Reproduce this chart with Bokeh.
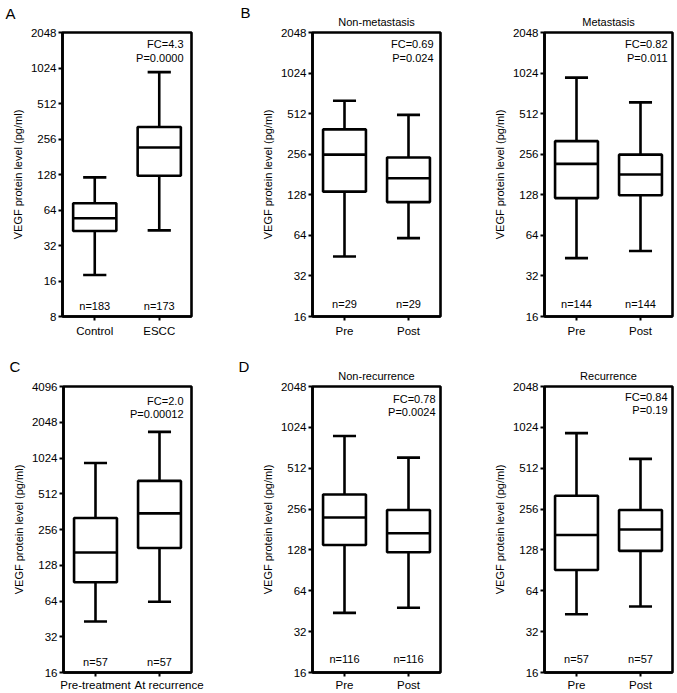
from bokeh.plotting import figure
from bokeh.layouts import column, row
from bokeh.models import Range1d, FixedTicker, PrintfTickFormatter, Label, Title
from bokeh.embed import file_html
from bokeh.resources import INLINE

FONT = "Liberation Sans"
LW = 2.6

# ---------------- data ----------------
y_label = "VEGF protein level (pg/ml)"

# Panel A
a_groups = ["Control", "ESCC"]
a_low = [18, 43]
a_q1 = [42.5, 125]
a_med = [54.5, 217]
a_q3 = [73, 324]
a_high = [121, 945]
a_n = ["n=183", "n=173"]
a_stats = ["FC=4.3", "P=0.0000"]
a_yticks = [8, 16, 32, 64, 128, 256, 512, 1024, 2048]

# Panel B (left)
b1_title = "Non-metastasis"
b_groups = ["Pre", "Post"]
b1_low = [44.6, 61]
b1_q1 = [135, 113]
b1_med = [254, 170]
b1_q3 = [391, 242]
b1_high = [638, 501]
b1_n = ["n=29", "n=29"]
b1_stats = ["FC=0.69", "P=0.024"]
b_yticks = [16, 32, 64, 128, 256, 512, 1024, 2048]

# Panel B (right)
b2_title = "Metastasis"
b2_low = [43.4, 49]
b2_q1 = [121, 127]
b2_med = [217, 181]
b2_q3 = [320, 254]
b2_high = [948, 621]
b2_n = ["n=144", "n=144"]
b2_stats = ["FC=0.82", "P=0.011"]

# Panel C
c_groups = ["Pre-treatment", "At recurrence"]
c_low = [43, 63]
c_q1 = [92, 179]
c_med = [164, 350]
c_q3 = [320, 657]
c_high = [929, 1700]
c_n = ["n=57", "n=57"]
c_stats = ["FC=2.0", "P=0.00012"]
c_yticks = [16, 32, 64, 128, 256, 512, 1024, 2048, 4096]

# Panel D (left)
d1_title = "Non-recurrence"
d_groups = ["Pre", "Post"]
d1_low = [44, 48]
d1_q1 = [139, 123]
d1_med = [222, 170]
d1_q3 = [328, 252]
d1_high = [885, 613]
d1_n = ["n=116", "n=116"]
d1_stats = ["FC=0.78", "P=0.0024"]
d_yticks = [16, 32, 64, 128, 256, 512, 1024, 2048]

# Panel D (right)
d2_title = "Recurrence"
d2_low = [43, 49]
d2_q1 = [91, 126]
d2_med = [165, 181]
d2_q3 = [321, 252]
d2_high = [929, 600]
d2_n = ["n=57", "n=57"]
d2_stats = ["FC=0.84", "P=0.19"]


def text_title(text, size, align, valign, standoff, offset=0):
    return Title(text=text, text_font=FONT, text_font_size=size,
                 text_font_style="normal", text_color="black", align=align,
                 vertical_align=valign, standoff=standoff, offset=offset)


def panel(groups, low, q1, med, q3, high, n_labels, stats, yticks, *, title,
          letter, width, height, left, right, top, bottom, letter_dx,
          letter_so, stats_dx, stats_dy, n_dy, label_pad=None, xstand=2):
    ymin, ymax = yticks[0], yticks[-1]
    if letter:
        main_title = text_title(letter, "15px", "left", "bottom", letter_so, letter_dx)
    else:
        main_title = text_title(title, "11px", "center", "bottom", 10)
    p = figure(width=width, height=height, y_axis_type="log",
               x_range=Range1d(0.5, len(groups) + 0.5),
               y_range=Range1d(ymin, ymax),
               output_backend="svg", toolbar_location=None,
               min_border_left=left, min_border_right=right,
               min_border_top=top, min_border_bottom=bottom,
               title=main_title)
    if letter:
        if title:
            p.add_layout(text_title(title, "11px", "center", "top", 6), "above")
        else:
            p.add_layout(text_title("\u00a0", "11px", "center", "bottom", 0), "above")

    xs = list(range(1, len(groups) + 1))
    bw, cw = 0.67, 0.36
    kw = dict(line_color="black", line_width=LW)
    # whiskers
    p.segment(xs, q3, xs, high, **kw)
    p.segment(xs, low, xs, q1, **kw)
    p.segment([x - cw / 2 for x in xs], high, [x + cw / 2 for x in xs], high, **kw)
    p.segment([x - cw / 2 for x in xs], low, [x + cw / 2 for x in xs], low, **kw)
    # boxes
    p.vbar(x=xs, width=bw, bottom=q1, top=q3, fill_color="white", **kw)
    p.segment([x - bw / 2 for x in xs], med, [x + bw / 2 for x in xs], med, **kw)

    p.xgrid.visible = False
    p.ygrid.visible = False
    p.outline_line_color = "black"
    p.outline_line_width = LW
    p.outline_line_alpha = 1.0

    for ax in (p.xaxis[0], p.yaxis[0]):
        ax.axis_line_color = "black"
        ax.axis_line_width = LW
        ax.major_tick_line_color = "black"
        ax.major_tick_line_width = 2
        ax.major_tick_in = 0
        ax.major_tick_out = 4
        ax.minor_tick_line_color = None
        ax.major_label_text_font = FONT
        ax.major_label_text_font_size = "11.5px"
        ax.major_label_text_color = "black"
        ax.major_label_standoff = 2
    p.xaxis.major_label_standoff = xstand

    p.xaxis.ticker = FixedTicker(ticks=xs)
    names = list(groups)
    if label_pad:
        names = [("\u00a0" * pad) + g for g, pad in zip(groups, label_pad)]
    p.xaxis.major_label_overrides = {x: g for x, g in zip(xs, names)}
    p.yaxis.ticker = FixedTicker(ticks=yticks)
    p.yaxis.formatter = PrintfTickFormatter(format="%d")
    p.yaxis.axis_label = y_label
    p.yaxis.axis_label_text_font = FONT
    p.yaxis.axis_label_text_font_size = "11px"
    p.yaxis.axis_label_text_font_style = "normal"
    p.yaxis.axis_label_text_color = "black"
    p.yaxis.axis_label_standoff = 4

    lab = dict(text_font=FONT, text_color="black")
    for i, s in enumerate(stats):
        p.add_layout(Label(x=len(groups) + 0.5, y=ymax, x_offset=-stats_dx,
                           y_offset=-stats_dy[i], text=s, text_font_size="11px",
                           text_align="right", text_baseline="middle", **lab))
    for x, t in zip(xs, n_labels):
        p.add_layout(Label(x=x, y=ymin, y_offset=n_dy, text=t,
                           text_font_size="11px", text_align="center",
                           text_baseline="middle", **lab))
    return p


pA = panel(a_groups, a_low, a_q1, a_med, a_q3, a_high, a_n, a_stats, a_yticks,
           title="", letter="A", width=230, height=340, left=62, right=39,
           top=32, bottom=24, letter_dx=-57, letter_so=-7, stats_dx=8,
           stats_dy=[11, 25], n_dy=11, xstand=4)
pB1 = panel(b_groups, b1_low, b1_q1, b1_med, b1_q3, b1_high, b1_n, b1_stats, b_yticks,
            title=b1_title, letter="B", width=220, height=340, left=82, right=10,
            top=32, bottom=24, letter_dx=-72, letter_so=-17, stats_dx=7,
            stats_dy=[11, 25], n_dy=13, xstand=4)
pB2 = panel(b_groups, b2_low, b2_q1, b2_med, b2_q3, b2_high, b2_n, b2_stats, b_yticks,
            title=b2_title, letter=None, width=227, height=340, left=94, right=5,
            top=32, bottom=24, letter_dx=0, letter_so=0, stats_dx=5,
            stats_dy=[11, 25], n_dy=13, xstand=4)
pC = panel(c_groups, c_low, c_q1, c_med, c_q3, c_high, c_n, c_stats, c_yticks,
           title="", letter="C", width=230, height=353, left=63, right=39,
           top=46, bottom=21, letter_dx=-54, letter_so=-5, stats_dx=8,
           stats_dy=[14, 27], n_dy=11, label_pad=[0, 6])
pD1 = panel(d_groups, d1_low, d1_q1, d1_med, d1_q3, d1_high, d1_n, d1_stats, d_yticks,
            title=d1_title, letter="D", width=220, height=353, left=82, right=10,
            top=46, bottom=21, letter_dx=-74, letter_so=-17, stats_dx=5,
            stats_dy=[12, 25], n_dy=14)
pD2 = panel(d_groups, d2_low, d2_q1, d2_med, d2_q3, d2_high, d2_n, d2_stats, d_yticks,
            title=d2_title, letter=None, width=227, height=353, left=94, right=5,
            top=46, bottom=21, letter_dx=0, letter_so=0, stats_dx=5,
            stats_dy=[10, 23], n_dy=14)

layout = column(row(pA, pB1, pB2), row(pC, pD1, pD2))
open("out.html", "w").write(file_html(layout, INLINE))
